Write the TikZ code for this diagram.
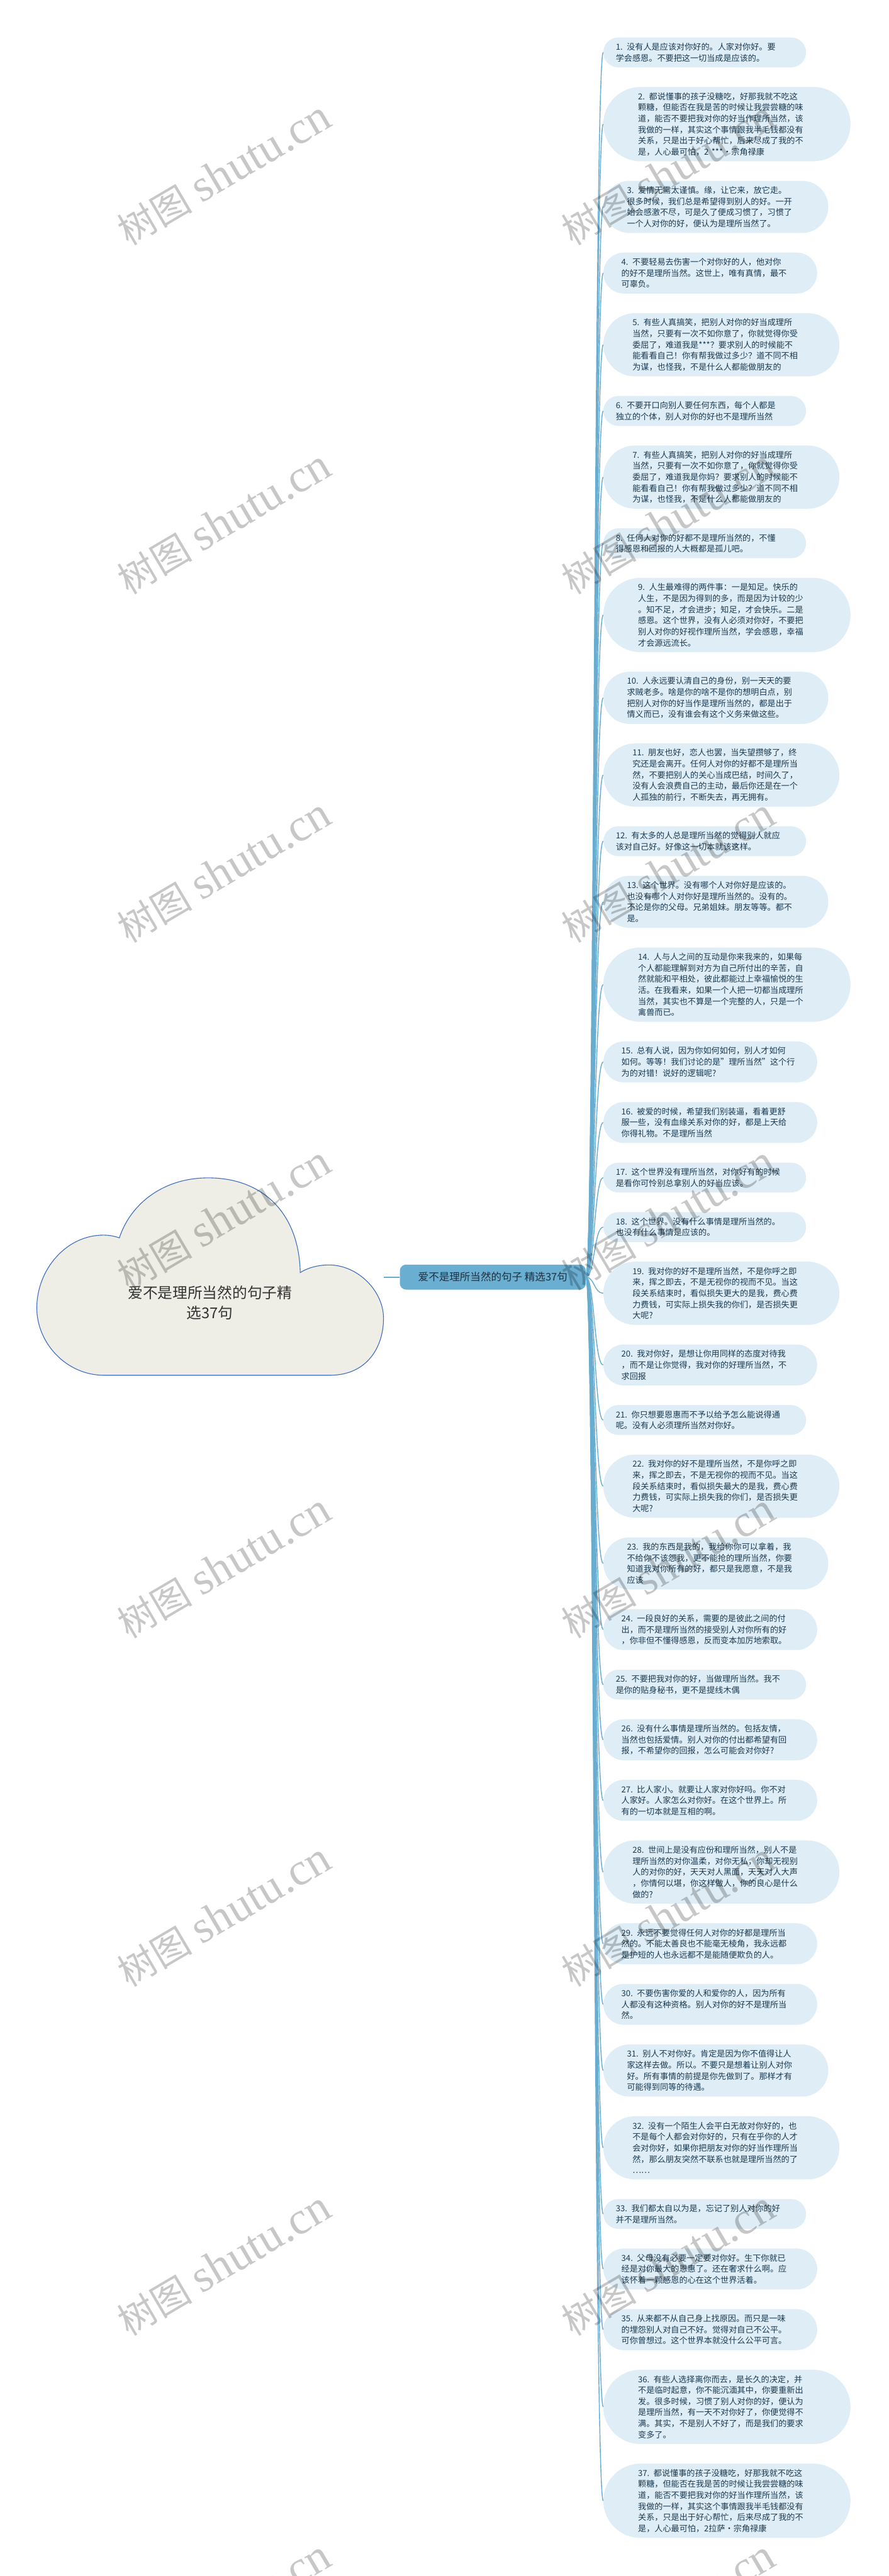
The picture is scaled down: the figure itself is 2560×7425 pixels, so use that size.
\documentclass[tikz,border=0pt]{standalone}
\usepackage{fontspec}
\setmainfont{Noto Sans CJK SC}
\newfontfamily\wmserif{Liberation Serif}
\definecolor{leaffill}{RGB}{222,237,246}
\definecolor{leaftext}{RGB}{28,58,80}
\definecolor{linkblue}{RGB}{104,172,208}
\definecolor{mainfill}{RGB}{106,174,210}
\definecolor{maintext}{RGB}{30,48,62}
\definecolor{cloudfill}{RGB}{238,238,230}
\definecolor{cloudline}{RGB}{58,108,192}
\tikzset{
  leafbox/.style={fill=leaffill, text=leaftext, font=\fontsize{11.9}{16}\selectfont,
    align=left, text width=256pt, inner ysep=0pt, anchor=west},
  conn/.style={draw=linkblue, line width=1.3pt},
  mainbox/.style={fill=mainfill, text=maintext, rounded corners=9pt, minimum width=268pt,
    minimum height=36pt, inner sep=0pt, font=\fontsize{15}{18}\selectfont},
  roottext/.style={text=black!80, align=center, font=\fontsize{21.5}{28.5}\selectfont},
  wmark/.style={text=black, opacity=0.22, rotate=30.5, inner sep=0pt, font=\fontsize{54}{60}\selectfont}
}
\newcommand\curY{108}
\newcommand\leaf[3]{%
  \pgfmathsetmacro\lfh{(32*#2+22)*0.5}%
  \pgfmathsetmacro\lfr{\lfh/2}%
  \pgfmathsetmacro\lfrc{\lfr*0.999}%
  \pgfmathsetmacro\lfx{\lfr-3.5}%
  \pgfmathsetmacro\lfyc{\curY+(32*#2+22)/2}%
  \node[leafbox, minimum height=\lfh pt, inner xsep=\lfx pt, rounded corners=\lfrc pt] (#1) at (1738,\lfyc) {#3};
  \draw[conn] (main.east) .. controls +(24,0) and +(-26,0) .. (#1.west);
  \pgfmathsetmacro\nexty{\curY+(32*#2+22)+56.7}%
  \xdef\curY{\nexty}%
}
\begin{document}
\begin{tikzpicture}[x=0.5pt,y=-0.5pt]
\fill[white] (0,0) rectangle (2560,7425);
\path[use as bounding box] (0,0) rectangle (2560,7425);

% root cloud
\path[fill=cloudfill, draw=cloudline, line width=1pt]
  (300,3964) -- (950,3964)
  .. controls (1060,3964) and (1105,3880) .. (1105,3800)
  .. controls (1105,3720) and (1030,3646) .. (948,3646)
  .. controls (915,3646) and (885,3655) .. (865,3668)
  .. controls (862,3500) and (760,3395) .. (600,3395)
  .. controls (460,3395) and (372,3480) .. (344,3568)
  .. controls (330,3563) and (315,3560) .. (298,3560)
  .. controls (190,3560) and (106,3660) .. (106,3770)
  .. controls (106,3870) and (190,3964) .. (300,3964) -- cycle;
\node[roottext] (root) at (605,3755) {爱不是理所当然的句子精\\选37句};
\coordinate (rootR) at (1105,3681);

\node[mainbox] (main) at (1420,3681) {爱不是理所当然的句子 精选37句};
\draw[draw=linkblue, line width=2pt] (rootR) -- (main.west);

\leaf{l1}{2}{1. 没有人是应该对你好的。人家对你好。要\\学会感恩。不要把这一切当成是应该的。}
\leaf{l2}{6}{2. 都说懂事的孩子没糖吃，好那我就不吃这\\颗糖，但能否在我是苦的时候让我尝尝糖的味\\道，能否不要把我对你的好当作理所当然，该\\我做的一样，其实这个事情跟我半毛钱都没有\\关系，只是出于好心帮忙，后来尽成了我的不\\是，人心最可怕，2 ***·宗角禄康}
\leaf{l3}{4}{3. 爱情无需太谨慎。缘，让它来，放它走。\\很多时候，我们总是希望得到别人的好。一开\\始会感激不尽，可是久了便成习惯了，习惯了\\一个人对你的好，便认为是理所当然了。}
\leaf{l4}{3}{4. 不要轻易去伤害一个对你好的人，他对你\\的好不是理所当然。这世上，唯有真情，最不\\可辜负。}
\leaf{l5}{5}{5. 有些人真搞笑，把别人对你的好当成理所\\当然，只要有一次不如你意了，你就觉得你受\\委屈了，难道我是***？要求别人的时候能不\\能看看自己！你有帮我做过多少？道不同不相\\为谋，也怪我，不是什么人都能做朋友的}
\leaf{l6}{2}{6. 不要开口向别人要任何东西，每个人都是\\独立的个体，别人对你的好也不是理所当然}
\leaf{l7}{5}{7. 有些人真搞笑，把别人对你的好当成理所\\当然，只要有一次不如你意了，你就觉得你受\\委屈了，难道我是你妈？要求别人的时候能不\\能看看自己！你有帮我做过多少？道不同不相\\为谋，也怪我，不是什么人都能做朋友的}
\leaf{l8}{2}{8. 任何人对你的好都不是理所当然的，不懂\\得感恩和回报的人大概都是孤儿吧。}
\leaf{l9}{6}{9. 人生最难得的两件事：一是知足。快乐的\\人生，不是因为得到的多，而是因为计较的少\\。知不足，才会进步；知足，才会快乐。二是\\感恩。这个世界，没有人必须对你好，不要把\\别人对你的好视作理所当然，学会感恩，幸福\\才会源远流长。}
\leaf{l10}{4}{10. 人永远要认清自己的身份，别一天天的要\\求贼老多。啥是你的啥不是你的想明白点，别\\把别人对你的好当作是理所当然的，都是出于\\情义而已，没有谁会有这个义务来做这些。}
\leaf{l11}{5}{11. 朋友也好，恋人也罢，当失望攒够了，终\\究还是会离开。任何人对你的好都不是理所当\\然，不要把别人的关心当成巴结，时间久了，\\没有人会浪费自己的主动，最后你还是在一个\\人孤独的前行，不断失去，再无拥有。}
\leaf{l12}{2}{12. 有太多的人总是理所当然的觉得别人就应\\该对自己好。好像这一切本就该这样。}
\leaf{l13}{4}{13. 这个世界。没有哪个人对你好是应该的。\\也没有哪个人对你好是理所当然的。没有的。\\不论是你的父母。兄弟姐妹。朋友等等。都不\\是。}
\leaf{l14}{6}{14. 人与人之间的互动是你来我来的，如果每\\个人都能理解到对方为自己所付出的辛苦，自\\然就能和平相处，彼此都能过上幸福愉悦的生\\活。在我看来，如果一个人把一切都当成理所\\当然，其实也不算是一个完整的人，只是一个\\禽兽而已。}
\leaf{l15}{3}{15. 总有人说，因为你如何如何，别人才如何\\如何。等等！我们讨论的是"理所当然"这个行\\为的对错！说好的逻辑呢?}
\leaf{l16}{3}{16. 被爱的时候，希望我们别装逼，看着更舒\\服一些，没有血缘关系对你的好，都是上天给\\你得礼物。不是理所当然}
\leaf{l17}{2}{17. 这个世界没有理所当然，对你好有的时候\\是看你可怜别总拿别人的好当应该。}
\leaf{l18}{2}{18. 这个世界。没有什么事情是理所当然的。\\也没有什么事情是应该的。}
\leaf{l19}{5}{19. 我对你的好不是理所当然，不是你呼之即\\来，挥之即去，不是无视你的视而不见。当这\\段关系结束时，看似损失更大的是我，费心费\\力费钱，可实际上损失我的你们，是否损失更\\大呢?}
\leaf{l20}{3}{20. 我对你好，是想让你用同样的态度对待我\\，而不是让你觉得，我对你的好理所当然，不\\求回报}
\leaf{l21}{2}{21. 你只想要恩惠而不予以给予怎么能说得通\\呢。没有人必须理所当然对你好。}
\leaf{l22}{5}{22. 我对你的好不是理所当然，不是你呼之即\\来，挥之即去，不是无视你的视而不见。当这\\段关系结束时，看似损失最大的是我，费心费\\力费钱，可实际上损失我的你们，是否损失更\\大呢?}
\leaf{l23}{4}{23. 我的东西是我的，我给你你可以拿着，我\\不给你不该怨我，更不能抢的理所当然，你要\\知道我对你所有的好，都只是我愿意，不是我\\应该}
\leaf{l24}{3}{24. 一段良好的关系，需要的是彼此之间的付\\出，而不是理所当然的接受别人对你所有的好\\，你非但不懂得感恩，反而变本加厉地索取。}
\leaf{l25}{2}{25. 不要把我对你的好，当做理所当然。我不\\是你的贴身秘书，更不是提线木偶}
\leaf{l26}{3}{26. 没有什么事情是理所当然的。包括友情，\\当然也包括爱情。别人对你的付出都希望有回\\报，不希望你的回报，怎么可能会对你好?}
\leaf{l27}{3}{27. 比人家小。就要让人家对你好吗。你不对\\人家好。人家怎么对你好。在这个世界上。所\\有的一切本就是互相的啊。}
\leaf{l28}{5}{28. 世间上是没有应份和理所当然，别人不是\\理所当然的对你温柔，对你无私，你却无视别\\人的对你的好，天天对人黑面，天天对人大声\\，你情何以堪，你这样做人，你的良心是什么\\做的?}
\leaf{l29}{3}{29. 永远不要觉得任何人对你的好都是理所当\\然的。不能太善良也不能毫无棱角，我永远都\\是护短的人也永远都不是能随便欺负的人。}
\leaf{l30}{3}{30. 不要伤害你爱的人和爱你的人，因为所有\\人都没有这种资格。别人对你的好不是理所当\\然。}
\leaf{l31}{4}{31. 别人不对你好。肯定是因为你不值得让人\\家这样去做。所以。不要只是想着让别人对你\\好。所有事情的前提是你先做到了。那样才有\\可能得到同等的待遇。}
\leaf{l32}{5}{32. 没有一个陌生人会平白无故对你好的，也\\不是每个人都会对你好的，只有在乎你的人才\\会对你好，如果你把朋友对你的好当作理所当\\然，那么朋友突然不联系也就是理所当然的了\\……}
\leaf{l33}{2}{33. 我们都太自以为是，忘记了别人对你的好\\并不是理所当然。}
\leaf{l34}{3}{34. 父母没有必要一定要对你好。生下你就已\\经是对你最大的恩惠了。还在奢求什么啊。应\\该怀着一颗感恩的心在这个世界活着。}
\leaf{l35}{3}{35. 从来都不从自己身上找原因。而只是一味\\的埋怨别人对自己不好。觉得对自己不公平。\\可你曾想过。这个世界本就没什么公平可言。}
\leaf{l36}{6}{36. 有些人选择离你而去，是长久的决定，并\\不是临时起意，你不能沉湎其中，你要重新出\\发。很多时候，习惯了别人对你的好，便认为\\是理所当然，有一天不对你好了，你便觉得不\\满。其实，不是别人不好了，而是我们的要求\\变多了。}
\leaf{l37}{6}{37. 都说懂事的孩子没糖吃，好那我就不吃这\\颗糖，但能否在我是苦的时候让我尝尝糖的味\\道，能否不要把我对你的好当作理所当然，该\\我做的一样，其实这个事情跟我半毛钱都没有\\关系，只是出于好心帮忙，后来尽成了我的不\\是，人心最可怕，2拉萨·宗角禄康}

% watermarks
\foreach \i/\wy in {1/500,2/1505,3/2510,4/3512,5/4515,6/5520,7/6525,8/7530}{
  \node[wmark] (wmL\i) at (646,\wy) {树图\hspace{0.25em}{\wmserif\fontsize{66}{70}\selectfont shutu.cn}};
  \node[wmark] (wmR\i) at (1926,\wy) {树图\hspace{0.25em}{\wmserif\fontsize{66}{70}\selectfont shutu.cn}};
}
\end{tikzpicture}
\end{document}
